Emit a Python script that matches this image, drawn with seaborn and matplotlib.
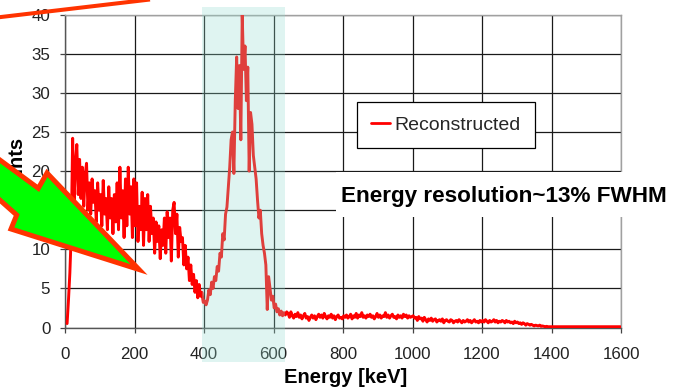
import numpy as np
import pandas as pd
import seaborn as sns
import matplotlib.pyplot as plt
import matplotlib.transforms as mtransforms
from matplotlib.patches import Polygon, Rectangle
from matplotlib.lines import Line2D

# Reconstructed energy spectrum, 4 keV bins (counts per bin)
BIN_KEV = 4

# 6 .. 398 keV : Compton continuum
low_start = 6
low_counts = [
    0.5, 3.5, 7.0, 12.0, 24.2, 16.0, 21.0, 23.4, 17.0, 21.5,
    16.5, 20.5, 15.5, 19.5, 21.0, 15.0, 18.5, 14.5, 19.0, 16.0,
    17.5, 13.5, 18.5, 15.0, 17.0, 13.0, 18.8, 14.5, 16.5, 12.5,
    18.0, 14.0, 16.5, 12.0, 17.0, 13.5, 18.5, 12.5, 20.5, 14.0,
    17.5, 11.5, 19.0, 13.0, 20.5, 14.5, 18.0, 11.5, 19.0, 13.0,
    18.5, 11.0, 15.5, 12.5, 17.3, 10.5, 16.5, 12.5, 17.0, 11.0,
    15.5, 12.0, 14.0, 9.5, 13.5, 11.0, 13.0, 8.8, 12.5, 10.5,
    14.0, 9.5, 14.8, 11.5, 14.0, 8.5, 15.0, 16.0, 12.0, 14.5,
    9.0, 12.8, 11.0, 11.5, 8.0, 10.5, 7.5, 9.0, 6.0, 8.0,
    5.5, 6.8, 4.5, 6.0, 3.8, 5.5, 4.0, 4.5, 3.2,
]

# 402 .. 638 keV : photopeak
peak_start = 402
peak_counts = [
    3.4, 2.9, 3.5, 4.8, 4.2, 5.8, 5.0, 6.5, 6.0, 7.8,
    7.2, 9.5, 9.0, 12.0, 11.2, 14.5, 15.4, 18.0, 20.5, 24.0,
    25.0, 19.7, 29.0, 34.6, 28.0, 33.5, 24.0, 40.0, 33.0, 36.0,
    29.0, 33.3, 20.0, 27.5, 26.0, 22.0, 20.5, 19.0, 16.3, 14.0,
    15.0, 12.0, 10.5, 9.5, 8.0, 2.3, 6.5, 5.0, 3.5, 4.0,
    2.5, 3.0, 2.0, 2.4, 1.6, 2.1, 1.5, 1.9, 1.6, 2.0,
]

# 642 .. 1398 keV : high-energy tail
tail_start = 642
tail_counts = [
    1.8, 1.3, 2.0, 1.5, 1.2, 1.7, 1.4, 1.9, 1.3, 1.6,
    1.1, 1.5, 1.8, 1.2, 1.4, 0.9, 1.3, 1.6, 1.2, 1.5,
    1.0, 1.4, 1.7, 1.3, 1.6, 1.2, 1.8, 1.4, 1.1, 1.5,
    1.3, 1.7, 1.2, 1.5, 1.0, 1.4, 1.6, 1.2, 1.3, 1.1,
    1.5, 1.3, 1.6, 1.2, 1.4, 1.7, 1.1, 1.5, 1.3, 1.8,
    1.2, 1.6, 1.4, 1.9, 1.3, 1.5, 1.2, 1.6, 1.4, 1.7,
    1.3, 1.5, 1.1, 1.4, 1.8, 1.3, 1.6, 1.2, 1.5, 1.4,
    1.9, 1.3, 1.6, 1.2, 1.5, 1.7, 1.3, 1.4, 1.1, 1.6,
    1.3, 1.5, 1.2, 1.7, 1.4, 1.6, 1.2, 1.5, 1.3, 1.4,
    1.5, 1.2, 1.3, 0.9, 1.4, 1.1, 1.2, 0.8, 1.3, 1.0,
    0.7, 1.1, 0.9, 1.2, 0.8, 1.0, 1.1, 0.7, 0.9, 1.0,
    0.8, 1.1, 0.6, 0.9, 1.0, 0.8, 0.7, 1.0, 0.9, 0.6,
    0.8, 0.9, 0.7, 1.0, 0.8, 0.6, 0.9, 0.7, 0.8, 1.0,
    0.7, 0.9, 0.6, 0.8, 1.0, 0.7, 0.8, 0.6, 0.9, 0.7,
    0.9, 0.7, 1.0, 0.8, 0.6, 0.9, 0.7, 0.8, 1.0, 0.7,
    0.9, 0.6, 0.8, 0.7, 0.9, 0.8, 0.6, 0.9, 0.7, 0.8,
    0.6, 0.7, 0.5, 0.8, 0.6, 0.7, 0.5, 0.6, 0.4, 0.6,
    0.5, 0.3, 0.5, 0.4, 0.3, 0.4, 0.3, 0.2, 0.3, 0.25,
    0.2, 0.3, 0.15, 0.2, 0.15, 0.1, 0.15, 0.1, 0.1, 0.1,
]

# 1402 .. 1598 keV : empty channels
flat_start = 1402
flat_counts = [0.1] * 50

# energy window used for the resolution estimate
window_kev = (395, 633)

x_ticks = [0, 200, 400, 600, 800, 1000, 1200, 1400, 1600]
y_ticks = [0, 5, 10, 15, 20, 25, 30, 35, 40]

segments = [(low_start, low_counts), (peak_start, peak_counts),
            (tail_start, tail_counts), (flat_start, flat_counts)]
energy = np.concatenate([s + BIN_KEV * np.arange(len(v)) for s, v in segments])
counts = np.concatenate([np.asarray(v, float) for _, v in segments])
df = pd.DataFrame({"Energy [keV]": energy, "Counts": counts})

sns.set_theme(style="white")
plt.rcParams["font.family"] = ["Liberation Sans", "DejaVu Sans"]

W, H = 673, 391
fig = plt.figure(figsize=(W / 100, H / 100), dpi=100)
fig.patch.set_facecolor("white")
ax = fig.add_axes([65 / W, 1 - 327.5 / H, 556 / W, 312.8 / H])

sns.lineplot(data=df, x="Energy [keV]", y="Counts", ax=ax, color="#ff0000",
             lw=2.1, label="Reconstructed", zorder=3)

ax.set_xlim(0, 1600)
ax.set_ylim(0, 40)
ax.set_xticks(x_ticks)
ax.set_yticks(y_ticks)
ax.grid(True, color="#1a1a1a", lw=0.9)
ax.set_axisbelow(True)
for side in ("left", "bottom"):
    ax.spines[side].set_color("#555555")
    ax.spines[side].set_linewidth(1.0)
for side in ("top", "right"):
    ax.spines[side].set_color("#a0a0a0")
    ax.spines[side].set_linewidth(1.0)
ax.tick_params(axis="both", bottom=True, left=True, direction="out",
               length=3.6, width=0.9, color="#444444",
               labelsize=12.2, labelcolor="#222222")
ax.tick_params(axis="x", pad=10.5)
ax.tick_params(axis="y", pad=7.0)

ax.set_xlabel("Energy [keV]", fontsize=14.5, fontweight="bold", color="black")
ax.xaxis.set_label_coords(0.505, -0.128)
ax.set_ylabel("Counts", fontsize=14.5, fontweight="bold", color="black")
ax.yaxis.set_label_coords(-0.070, 0.5)

leg = ax.legend(loc="upper left", bbox_to_anchor=(357 / W, 1 - 102 / H),
                bbox_transform=fig.transFigure, frameon=True, fancybox=False,
                shadow=False, fontsize=14, handlelength=1.0,
                handletextpad=0.2, borderpad=0.72, borderaxespad=0)
leg.get_frame().set_edgecolor("black")
leg.get_frame().set_linewidth(0.9)
leg.get_frame().set_facecolor("white")
leg.get_frame().set_alpha(1)
for line in leg.get_lines():
    line.set_linewidth(2.0)

# translucent band over the photopeak window
y_lo = (327.5 - 362) / 312.8
y_hi = (327.5 - 7) / 312.8
ax.add_patch(Rectangle((window_kev[0], y_lo), window_kev[1] - window_kev[0], y_hi - y_lo,
                       transform=ax.get_xaxis_transform(), facecolor="#94dccf",
                       alpha=0.29, edgecolor="none", clip_on=False, zorder=6))
ax.set_xlim(0, 1600)
ax.set_ylim(0, 40)

# pixel-space transform for the slide overlays
px = mtransforms.Affine2D().scale(1 / W, -1 / H).translate(0, 1) + fig.transFigure

fig.add_artist(Rectangle((336, 172), 345, 45, transform=px, facecolor="white",
                         edgecolor="none", zorder=3))
fig.text(341 / W, 1 - 201.7 / H, "Energy resolution~13% FWHM", fontsize=16.2,
         fontweight="bold", color="black", ha="left", va="baseline", zorder=4)

arrow = Polygon([(-30, 138), (38.3, 188.3), (47, 173), (139, 269.5),
                 (11, 229), (16.7, 215), (-30, 173.6)],
                closed=True, transform=px, facecolor="#00ff00",
                edgecolor="#ff3300", linewidth=3.6, joinstyle="miter", zorder=5)
fig.add_artist(arrow)
fig.add_artist(Line2D([-10, 150], [18.3, -0.5], transform=px, color="#ff3300",
                      lw=2.9, solid_capstyle="butt", zorder=5))

fig.savefig("out.png", dpi=100)
